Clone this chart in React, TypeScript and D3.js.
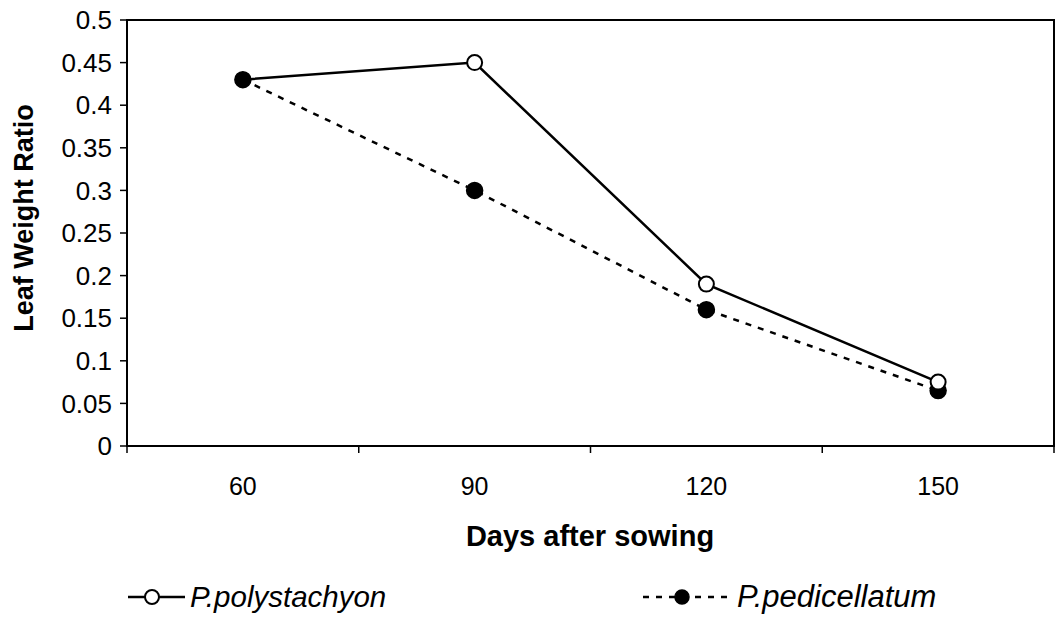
import React from "react";
import * as d3 from "d3";

const categories = ["60", "90", "120", "150"];
const polystachyon = [0.43, 0.45, 0.19, 0.075];
const pedicellatum = [0.43, 0.30, 0.16, 0.065];
const yTicks = [0, 0.05, 0.1, 0.15, 0.2, 0.25, 0.3, 0.35, 0.4, 0.45, 0.5];
const yTickLabels = ["0", "0.05", "0.1", "0.15", "0.2", "0.25", "0.3", "0.35", "0.4", "0.45", "0.5"];

const W = 1057, H = 634;
const L = 127, R = 1054, T = 20, B = 446;
const font = "'Liberation Sans', Arial, sans-serif";

export default function App() {
  const x = d3.scaleBand<string>().domain(categories).range([L, R]);
  const y = d3.scaleLinear().domain([0, 0.5]).range([B, T]);
  const cx = (c: string) => (x(c) as number) + x.bandwidth() / 2;
  const line = d3.line<number>().x((_, i) => cx(categories[i])).y(d => y(d));
  const bounds = [...categories.map(c => x(c) as number), R];
  return (
    <svg width={W} height={H} style={{ position: "absolute", left: 0, top: 0, background: "#fff" }}>
      <rect x={L} y={T} width={R - L} height={B - T} fill="none" stroke="#000" strokeWidth={2} />
      {yTicks.map((t, i) => (
        <g key={i}>
          <line x1={L - 7} x2={L} y1={y(t)} y2={y(t)} stroke="#000" strokeWidth={1.5} />
          <text x={L - 15} y={y(t)} dy="0.35em" textAnchor="end" fontFamily={font} fontSize={26}>{yTickLabels[i]}</text>
        </g>
      ))}
      {bounds.map((b, i) => (
        <line key={i} x1={b} x2={b} y1={B} y2={B + 7} stroke="#000" strokeWidth={1.5} />
      ))}
      {categories.map(c => (
        <text key={c} x={cx(c)} y={B + 49} textAnchor="middle" fontFamily={font} fontSize={25}>{c}</text>
      ))}
      <text transform={`translate(33,218) rotate(-90)`} textAnchor="middle" fontFamily={font} fontSize={27} fontWeight="bold">Leaf Weight Ratio</text>
      <text x={590} y={546} textAnchor="middle" fontFamily={font} fontSize={29} fontWeight="bold">Days after sowing</text>
      <path d={line(pedicellatum) as string} fill="none" stroke="#000" strokeWidth={2.5} strokeDasharray="6,7" />
      <path d={line(polystachyon) as string} fill="none" stroke="#000" strokeWidth={2.5} />
      {pedicellatum.map((v, i) => (
        <circle key={"b" + i} cx={cx(categories[i])} cy={y(v)} r={8} fill="#000" stroke="#000" strokeWidth={1.5} />
      ))}
      {polystachyon.map((v, i) => (
        i === 0 ? null : <circle key={"a" + i} cx={cx(categories[i])} cy={y(v)} r={7.5} fill="#fff" stroke="#000" strokeWidth={2} />
      ))}
      <g>
        <line x1={128} x2={185} y1={597} y2={597} stroke="#000" strokeWidth={2.5} />
        <circle cx={152} cy={597} r={7} fill="#fff" stroke="#000" strokeWidth={2} />
        <text x={190} y={607} fontFamily={font} fontSize={29.5} fontStyle="italic">P.polystachyon</text>
      </g>
      <g>
        <line x1={643} x2={733} y1={597} y2={597} stroke="#000" strokeWidth={2.5} strokeDasharray="6,7" />
        <circle cx={682} cy={597} r={7} fill="#000" stroke="#000" strokeWidth={1.5} />
        <text x={737} y={607} fontFamily={font} fontSize={31} fontStyle="italic">P.pedicellatum</text>
      </g>
    </svg>
  );
}
